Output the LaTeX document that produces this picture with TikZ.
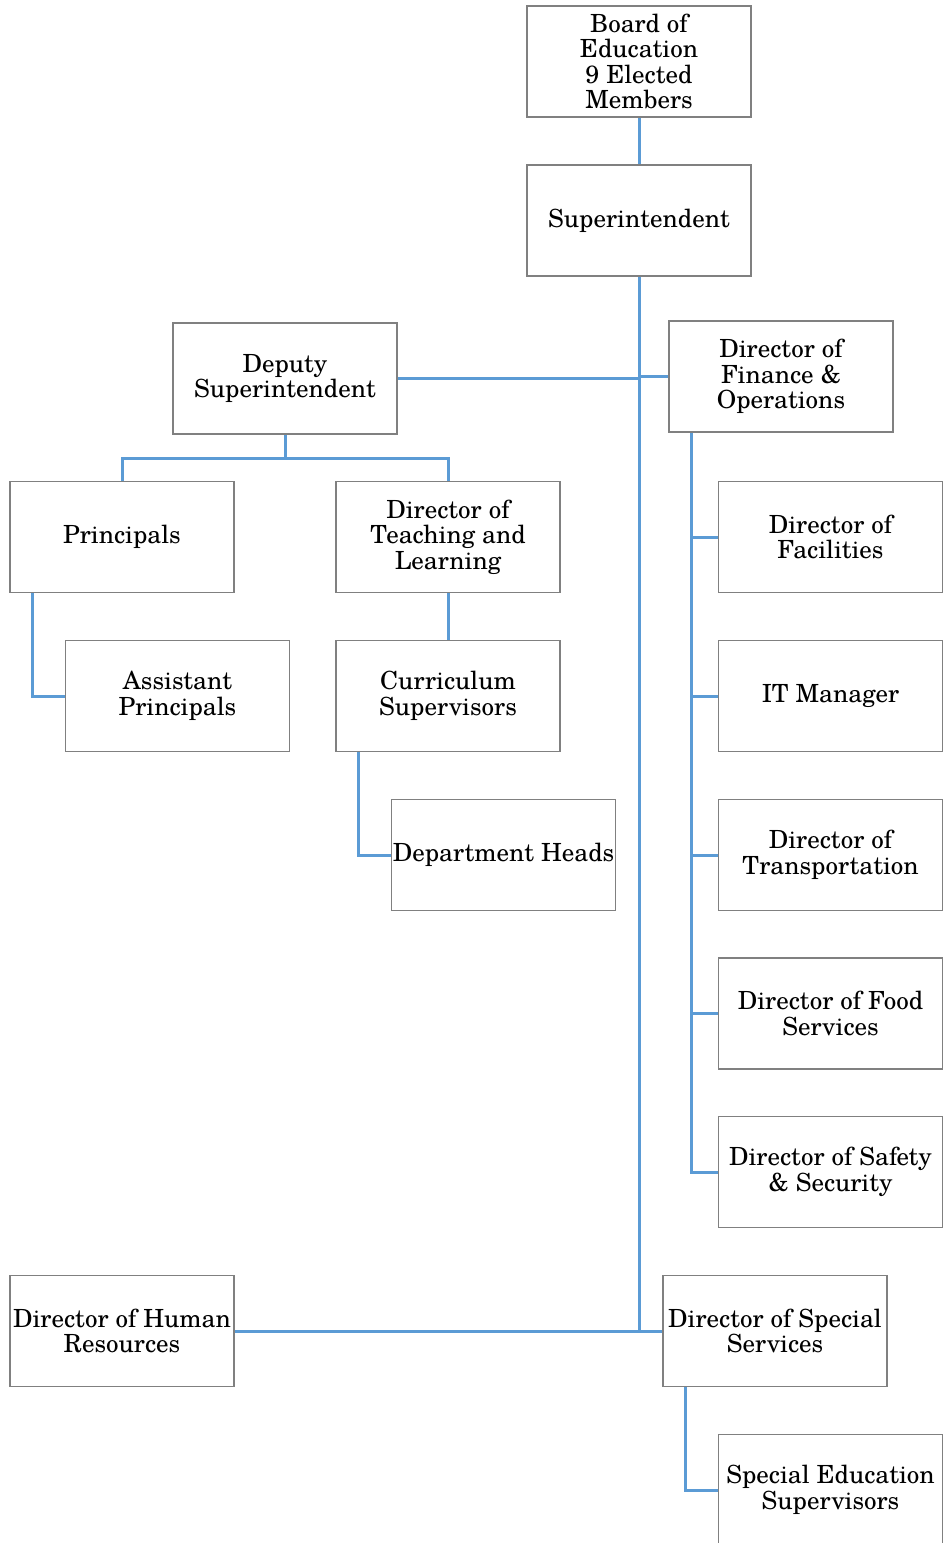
\documentclass[tikz,border=0pt]{standalone}
\usepackage{fontspec}
\setmainfont{texgyreschola-regular.otf}
\definecolor{linkblue}{RGB}{91,155,213}
\definecolor{boxgray}{RGB}{128,128,128}
\begin{document}
\begin{tikzpicture}[x=1pt,y=-1pt,
  orgbox/.style={draw=boxgray,line width=1.2pt,fill=white,minimum width=224pt,minimum height=111pt,inner sep=0pt,align=center,font=\fontsize{25}{25.5}\selectfont},
  link/.style={draw=linkblue,line width=3pt}]
\useasboundingbox (0,0) rectangle (943,1543);
\coordinate (djoin) at (285,458);
\node[orgbox] (board) at (639,61.5) {Board of\\Education\\9 Elected\\Members};
\node[orgbox] (super) at (639,220.5) {Superintendent};
\node[orgbox] (deputy) at (285,378.5) {Deputy\\Superintendent};
\node[orgbox] (finance) at (781,376.5) {Director of\\Finance \&\\Operations};
\node[orgbox] (principals) at (122,537) {Principals};
\node[orgbox] (teaching) at (448,537) {Director of\\Teaching and\\Learning};
\node[orgbox] (assistant) at (177.5,696) {Assistant\\Principals};
\node[orgbox] (curriculum) at (448,696) {Curriculum\\Supervisors};
\node[orgbox] (dept) at (503.5,855) {Department Heads};
\node[orgbox] (facilities) at (830.5,537) {Director of\\Facilities};
\node[orgbox] (it) at (830.5,696) {IT Manager};
\node[orgbox] (transport) at (830.5,855) {Director of\\Transportation};
\node[orgbox] (food) at (830.5,1013.5) {Director of Food\\Services};
\node[orgbox] (safety) at (830.5,1172) {Director of Safety\\\& Security};
\node[orgbox] (hr) at (122,1331) {Director of Human\\Resources};
\node[orgbox] (special) at (775,1331) {Director of Special\\Services};
\node[orgbox] (sped) at (830.5,1490) {Special Education\\Supervisors};
\path[link] (board.south) -- (super.north);
\path[link] (super.south) -- (super.south |- hr.east);
\path[link] (hr.east) -- (special.west);
\path[link] (deputy.east) -- (deputy.east -| super.south);
\path[link] (finance.west) -- (finance.west -| super.south);
\path[link] (deputy.south) -- (djoin);
\path[link] (principals.north) |- (djoin) -| (teaching.north);
\path[link] ([xshift=-90pt]principals.south) |- (assistant.west);
\path[link] (teaching.south) -- (curriculum.north);
\path[link] ([xshift=-90pt]curriculum.south) |- (dept.west);
\path[link] ([xshift=-90pt]finance.south) |- (safety.west);
\path[link] ([xshift=-90pt]finance.south |- facilities.west) -- (facilities.west);
\path[link] ([xshift=-90pt]finance.south |- it.west) -- (it.west);
\path[link] ([xshift=-90pt]finance.south |- transport.west) -- (transport.west);
\path[link] ([xshift=-90pt]finance.south |- food.west) -- (food.west);
\path[link] ([xshift=-90pt]special.south) |- (sped.west);
\end{tikzpicture}
\end{document}
